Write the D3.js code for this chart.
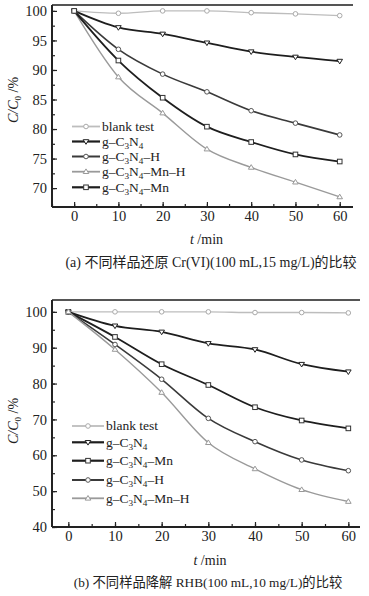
<!DOCTYPE html>
<html><head><meta charset="utf-8">
<script src="https://cdn.jsdelivr.net/npm/d3@7"></script>
<style>
body{margin:0;background:#fff;}
svg{display:block;}
svg text{font-family:"Liberation Serif","Noto Sans CJK SC",serif !important;fill:#222;}
</style></head>
<body>
<svg id="c" width="369" height="596"></svg>
<script>
const times = [0, 10, 20, 30, 40, 50, 60];
const xTicks = [0, 10, 20, 30, 40, 50, 60];
// Panel (a)
const aNames = ["blank test", "g-C3N4", "g-C3N4-H", "g-C3N4-Mn-H", "g-C3N4-Mn"];
const aBlank = [100, 99.6, 100, 100, 99.7, 99.5, 99.2];
const aC3N4 = [100, 97.2, 96.1, 94.6, 93.1, 92.2, 91.5];
const aH = [100, 93.5, 89.3, 86.3, 83.1, 81.0, 79.0];
const aMnH = [100, 88.8, 82.7, 76.6, 73.5, 71.0, 68.5];
const aMn = [100, 91.6, 85.3, 80.4, 77.8, 75.7, 74.5];
const aYTicks = [70, 75, 80, 85, 90, 95, 100];
// Panel (b)
const bNames = ["blank test", "g-C3N4", "g-C3N4-Mn", "g-C3N4-H", "g-C3N4-Mn-H"];
const bBlank = [100, 100, 100, 100, 99.8, 99.8, 99.7];
const bC3N4 = [100, 96.1, 94.4, 91.2, 89.5, 85.4, 83.3];
const bMn = [100, 93.0, 85.4, 79.6, 73.4, 69.7, 67.5];
const bH = [100, 90.9, 81.2, 70.3, 63.8, 58.7, 55.7];
const bMnH = [100, 89.5, 77.5, 63.5, 56.2, 50.4, 47.1];
const bYTicks = [40, 50, 60, 70, 80, 90, 100];
const captionA = "(a) 不同样品还原 Cr(VI)(100 mL,15 mg/L)的比较";
const captionB = "(b) 不同样品降解 RHB(100 mL,10 mg/L)的比较";

const svg = d3.select("#c");
const FONT = '"Liberation Serif","Noto Sans CJK SC",serif';

function label(g, name, x, y, size) {
  const t = g.append("text").attr("x", x).attr("y", y + size * 0.33)
    .attr("font-size", size).style("font-family", FONT);
  const parts = name.replace(/-/g, "–").split(/(\d)/).filter(p => p.length);
  let shifted = false;
  parts.forEach(p => {
    const ts = t.append("tspan").text(p);
    if (/^\d$/.test(p)) {
      ts.attr("font-size", size * 0.68).attr("dy", shifted ? 0 : 3);
      shifted = true;
    } else {
      ts.attr("dy", shifted ? -3 : 0);
      shifted = false;
    }
  });
}

function marker(g, type, x, y, color) {
  const s = 2.3;
  if (type === "circle") {
    g.append("circle").attr("cx", x).attr("cy", y).attr("r", s).attr("fill", "#fff").attr("stroke", color).attr("stroke-width", 1);
  } else if (type === "square") {
    g.append("rect").attr("x", x - s).attr("y", y - s).attr("width", 2 * s).attr("height", 2 * s).attr("fill", "#fff").attr("stroke", color).attr("stroke-width", 1);
  } else if (type === "tridown") {
    g.append("path").attr("d", `M${x - s - 0.5},${y - s + 0.5}L${x + s + 0.5},${y - s + 0.5}L${x},${y + s + 0.5}Z`).attr("fill", "#fff").attr("stroke", color).attr("stroke-width", 1);
  } else if (type === "triup") {
    g.append("path").attr("d", `M${x - s - 0.5},${y + s - 0.5}L${x + s + 0.5},${y + s - 0.5}L${x},${y - s - 0.5}Z`).attr("fill", "#fff").attr("stroke", color).attr("stroke-width", 1);
  }
}

function panel(cfg) {
  const g = svg.append("g");
  const x = d3.scaleLinear().domain(cfg.xDomain).range([cfg.left, cfg.right]);
  const y = d3.scaleLinear().domain(cfg.yDomain).range([cfg.bottom, cfg.top]);
  g.append("line").attr("x1", cfg.left).attr("x2", cfg.right).attr("y1", cfg.top).attr("y2", cfg.top).attr("stroke", "#555").attr("stroke-width", 1.8);
  const minorX = d3.range(-5, 61, 5).filter(v => v >= cfg.xDomain[0] && v <= cfg.xDomain[1]);
  const xa = g.append("g").attr("transform", `translate(0,${cfg.bottom})`)
    .call(d3.axisBottom(x).tickValues(minorX).tickSize(-3).tickFormat(""));
  const xb = g.append("g").attr("transform", `translate(0,${cfg.bottom})`)
    .call(d3.axisBottom(x).tickValues(xTicks).tickSize(-5).tickPadding(4).tickFormat(d3.format("d")));
  const yMinorStep = (cfg.yTicks[1] - cfg.yTicks[0]) / 2;
  const minorY = d3.range(cfg.yTicks[0], 101, yMinorStep);
  const ya = g.append("g").attr("transform", `translate(${cfg.left},0)`)
    .call(d3.axisLeft(y).tickValues(minorY).tickSize(-3).tickFormat(""));
  const yb = g.append("g").attr("transform", `translate(${cfg.left},0)`)
    .call(d3.axisLeft(y).tickValues(cfg.yTicks).tickSize(-5).tickPadding(5).tickFormat(d3.format("d")));
  [xa, xb, ya, yb].forEach(a => {
    a.attr("font-family", null);
    a.select(".domain").attr("stroke", "#222").attr("stroke-width", 1.8);
    a.selectAll(".tick line").attr("stroke", "#222").attr("stroke-width", 1.2);
    a.selectAll("text").attr("font-size", 14.5).attr("fill", "#222").style("font-family", FONT);
  });
  xa.select(".domain").attr("d", `M${cfg.left},0H${cfg.right}`);
  xb.select(".domain").attr("d", `M${cfg.left},0H${cfg.right}`);
  ya.select(".domain").attr("d", `M0,${cfg.bottom}V${cfg.top}`);
  yb.select(".domain").attr("d", `M0,${cfg.bottom}V${cfg.top}`);

  const line = d3.line().x((d, i) => x(times[i])).y(d => y(d)).curve(d3.curveMonotoneX);
  cfg.series.forEach(s => {
    g.append("path").datum(s.values).attr("d", line).attr("fill", "none").attr("stroke", s.color).attr("stroke-width", s.width);
  });
  cfg.series.forEach(s => {
    s.values.forEach((v, i) => marker(g, s.marker, x(times[i]), y(v), s.mcolor));
  });
  cfg.series.forEach((s, i) => {
    const ly = cfg.legendY[i];
    g.append("line").attr("x1", cfg.legX1).attr("x2", cfg.legX2).attr("y1", ly).attr("y2", ly).attr("stroke", s.color).attr("stroke-width", s.width + 0.4);
    marker(g, s.marker, (cfg.legX1 + cfg.legX2) / 2, ly, s.mcolor);
    label(g, s.name, cfg.legX2 + 2, ly, 13.5);
  });
  const yl = g.append("text").attr("transform", `translate(${cfg.yLabelX},${cfg.yLabelY}) rotate(-90)`)
    .attr("text-anchor", "middle").attr("font-size", 14).style("font-family", FONT);
  yl.append("tspan").text("C/C").attr("font-style", "italic");
  yl.append("tspan").text("0").attr("font-size", 9).attr("dy", 3);
  yl.append("tspan").text(" /%").attr("dy", -3);
  const xl = g.append("text").attr("x", (cfg.left + cfg.right) / 2 + 4).attr("y", cfg.xLabelY).attr("text-anchor", "middle").attr("font-size", 14).style("font-family", FONT);
  xl.append("tspan").text("t").attr("font-style", "italic");
  xl.append("tspan").text(" /min");
  g.append("text").attr("x", cfg.capX).attr("y", cfg.capY).attr("text-anchor", "middle").attr("font-size", cfg.capSize).style("font-family", FONT).text(cfg.caption);
}

const colBlank = "#bdbdbd", colDark = "#1e1e1e", colMid = "#3a3a3a", colLight = "#9a9a9a";

panel({
  left: 52, right: 353, top: 5, bottom: 207,
  xDomain: [-5, 63], yDomain: [66.8, 101], yTicks: aYTicks,
  series: [
    {name: aNames[0], values: aBlank, color: colBlank, mcolor: "#aaa", marker: "circle", width: 1.4},
    {name: aNames[1], values: aC3N4, color: colDark, mcolor: "#222", marker: "tridown", width: 1.8},
    {name: aNames[2], values: aH, color: colMid, mcolor: "#555", marker: "circle", width: 1.6},
    {name: aNames[3], values: aMnH, color: colLight, mcolor: "#999", marker: "triup", width: 1.4},
    {name: aNames[4], values: aMn, color: colDark, mcolor: "#333", marker: "square", width: 1.8}
  ],
  legendY: [126.5, 141.5, 156.5, 171.7, 187.3], legX1: 72, legX2: 100,
  yLabelX: 18, yLabelY: 100, xLabelY: 244, capX: 211, capY: 267, capSize: 14, caption: captionA
});

panel({
  left: 52, right: 360, top: 300, bottom: 527,
  xDomain: [-3.5, 62.5], yDomain: [40, 103.3], yTicks: bYTicks,
  series: [
    {name: bNames[0], values: bBlank, color: colBlank, mcolor: "#aaa", marker: "circle", width: 1.4},
    {name: bNames[1], values: bC3N4, color: colDark, mcolor: "#222", marker: "tridown", width: 1.8},
    {name: bNames[2], values: bMn, color: colDark, mcolor: "#333", marker: "square", width: 1.8},
    {name: bNames[3], values: bH, color: colMid, mcolor: "#555", marker: "circle", width: 1.6},
    {name: bNames[4], values: bMnH, color: colLight, mcolor: "#999", marker: "triup", width: 1.4}
  ],
  legendY: [426, 442.3, 460.7, 480, 498.3], legX1: 72, legX2: 104,
  yLabelX: 18, yLabelY: 421, xLabelY: 565, capX: 208, capY: 587, capSize: 13.3, caption: captionB
});
</script>
</body></html>
